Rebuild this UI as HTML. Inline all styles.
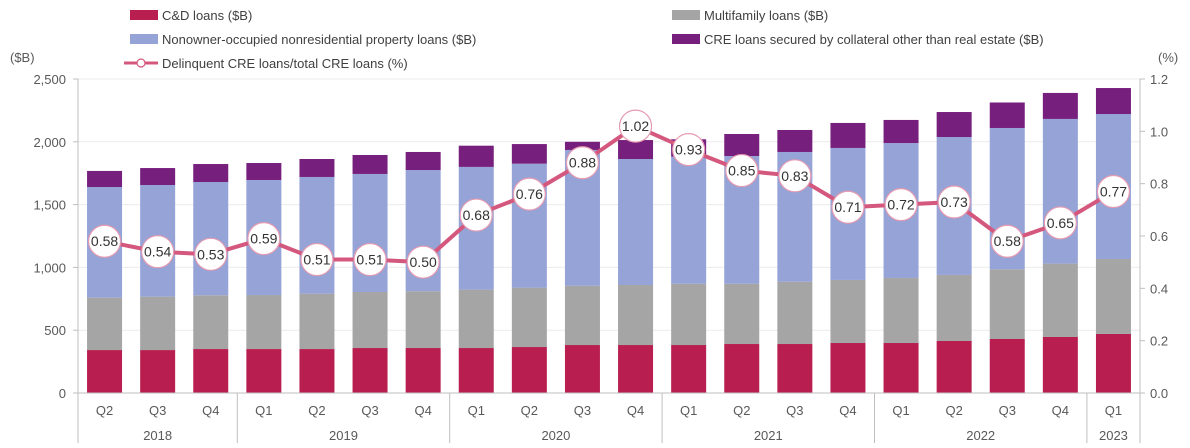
<!DOCTYPE html>
<html><head><meta charset="utf-8"><style>
body{margin:0;background:#fff;font-family:"Liberation Sans",Arial,sans-serif;}
svg text{font-family:"Liberation Sans",Arial,sans-serif;}
</style></head><body>
<svg id="chart" width="1190" height="443" xmlns="http://www.w3.org/2000/svg"></svg>
<script>
const quarters=["Q2","Q3","Q4","Q1","Q2","Q3","Q4","Q1","Q2","Q3","Q4","Q1","Q2","Q3","Q4","Q1","Q2","Q3","Q4","Q1"];
const years=[["2018",3],["2019",4],["2020",4],["2021",4],["2022",4],["2023",1]];
const cdLoans=[342,342,350,350,350,358,358,358,366,382,382,382,390,390,398,398,414,430,446,470];
const multifamily=[417,425,428,430,441,446,452,465,473,472,478,488,480,496,502,518,526,555,584,597];
const nonowner=[881,889,902,916,929,940,965,977,987,1081,1003,1012,1017,1033,1051,1074,1098,1125,1152,1154];
const otherCollateral=[128,135,143,135,143,151,144,169,156,65,151,138,175,175,199,184,199,203,207,207];
const delinquency=[0.58,0.54,0.53,0.59,0.51,0.51,0.50,0.68,0.76,0.88,1.02,0.93,0.85,0.83,0.71,0.72,0.73,0.58,0.65,0.77];
const leftTicks=["0","500","1,000","1,500","2,000","2,500"];
const rightTicks=["0.0","0.2","0.4","0.6","0.8","1.0","1.2"];

const svg=document.getElementById('chart');
const NS="http://www.w3.org/2000/svg";
function mk(tag,attrs,txt){const e=document.createElementNS(NS,tag);for(const k in attrs)e.setAttribute(k,attrs[k]);if(txt!==undefined)e.textContent=txt;svg.appendChild(e);return e;}
const X0=78,X1=1140,Y0=393,Ytop=79;
const n=quarters.length,cw=(X1-X0)/n,bw=35;
const yL=v=>Y0-(v/2500)*(Y0-Ytop);
const yR=v=>Y0-(v/1.2)*(Y0-Ytop);
const xC=i=>X0+cw*(i+0.5);

// gridlines & ticks
leftTicks.forEach((t,i)=>{const v=i*500,y=yL(v);
 if(i>0){const g=mk('line',{x1:X0,x2:X1,y1:y,y2:y,stroke:'#ebebeb','stroke-width':1});}
 const tx=mk('text',{x:X0-12,y:y+5,'text-anchor':'end','font-size':13,fill:'#595959'},t);
 mk('line',{x1:X0-5,x2:X0,y1:y,y2:y,stroke:'#bfbfbf'});
});
rightTicks.forEach((t,i)=>{const y=yR(i*0.2);
 const tx=mk('text',{x:X1+10,y:y+5,'font-size':13,fill:'#595959'},t);
 mk('line',{x1:X1,x2:X1+5,y1:y,y2:y,stroke:'#bfbfbf'});
});
mk('line',{x1:X0,x2:X0,y1:Ytop,y2:Y0,stroke:'#bfbfbf'});
mk('line',{x1:X1,x2:X1,y1:Ytop,y2:Y0,stroke:'#bfbfbf'});
const t1=mk('text',{x:10,y:62,'font-size':13,fill:'#595959'},'($B)');
const t2=mk('text',{x:1158,y:62,'font-size':13,fill:'#595959'},'(%)');

// bars
const series=[[cdLoans,'#b81f50','bar-cd'],[multifamily,'#a5a5a5','bar-multifamily'],[nonowner,'#95a3d7','bar-nonowner'],[otherCollateral,'#761f7c','bar-other-collateral']];
for(let i=0;i<n;i++){let base=0;
 series.forEach(([arr,col,name])=>{const v=arr[i];const r=mk('rect',{x:xC(i)-bw/2,y:yL(base+v),width:bw,height:yL(base)-yL(base+v),fill:col});
  base+=v;});
}
// axis
mk('line',{x1:X0,x2:X1,y1:Y0,y2:Y0,stroke:'#bfbfbf'});
quarters.forEach((q,i)=>{const t=mk('text',{x:xC(i),y:415,'text-anchor':'middle','font-size':13,fill:'#595959'},q);});
let idx=0;
mk('line',{x1:X0,x2:X0,y1:Y0,y2:443,stroke:'#bfbfbf'});
years.forEach(([y,c])=>{const xs=X0+cw*idx,xe=X0+cw*(idx+c);
 const t=mk('text',{x:(xs+xe)/2,y:440,'text-anchor':'middle','font-size':13,fill:'#595959'},y);
 mk('line',{x1:xe,x2:xe,y1:Y0,y2:443,stroke:'#bfbfbf'});idx+=c;});

// line
const pts=delinquency.map((v,i)=>xC(i)+','+yR(v)).join(' ');
const pl=mk('polyline',{points:pts,fill:'none',stroke:'#d4587e','stroke-width':4,'stroke-linejoin':'round'});

delinquency.forEach((v,i)=>{const c=mk('circle',{cx:xC(i),cy:yR(v),r:16,fill:'#fff',stroke:'#e59ab0','stroke-width':1.2});
 
 const t=mk('text',{x:xC(i),y:yR(v)+5,'text-anchor':'middle','font-size':14,fill:'#333'},v.toFixed(2));
 });

// legend
function leg(x,y,col,label,name){const r=mk('rect',{x:x,y:y-5,width:28,height:10,fill:col});
 const t=mk('text',{x:x+32,y:y+5,'font-size':13,fill:'#404040'},label);}
leg(130,15,'#b81f50','C&D loans ($B)','legend-cd');
leg(672,15,'#a5a5a5','Multifamily loans ($B)','legend-multifamily');
leg(130,39,'#95a3d7','Nonowner-occupied nonresidential property loans ($B)','legend-nonowner');
leg(672,39,'#761f7c','CRE loans secured by collateral other than real estate ($B)','legend-other-collateral');
mk('line',{x1:124,x2:158,y1:63,y2:63,stroke:'#d4587e','stroke-width':3});
mk('circle',{cx:141,cy:63,r:4,fill:'#fff',stroke:'#d4587e','stroke-width':1.2});
const lt=mk('text',{x:162,y:68,'font-size':13,fill:'#404040'},'Delinquent CRE loans/total CRE loans (%)');
</script>
</body></html>
